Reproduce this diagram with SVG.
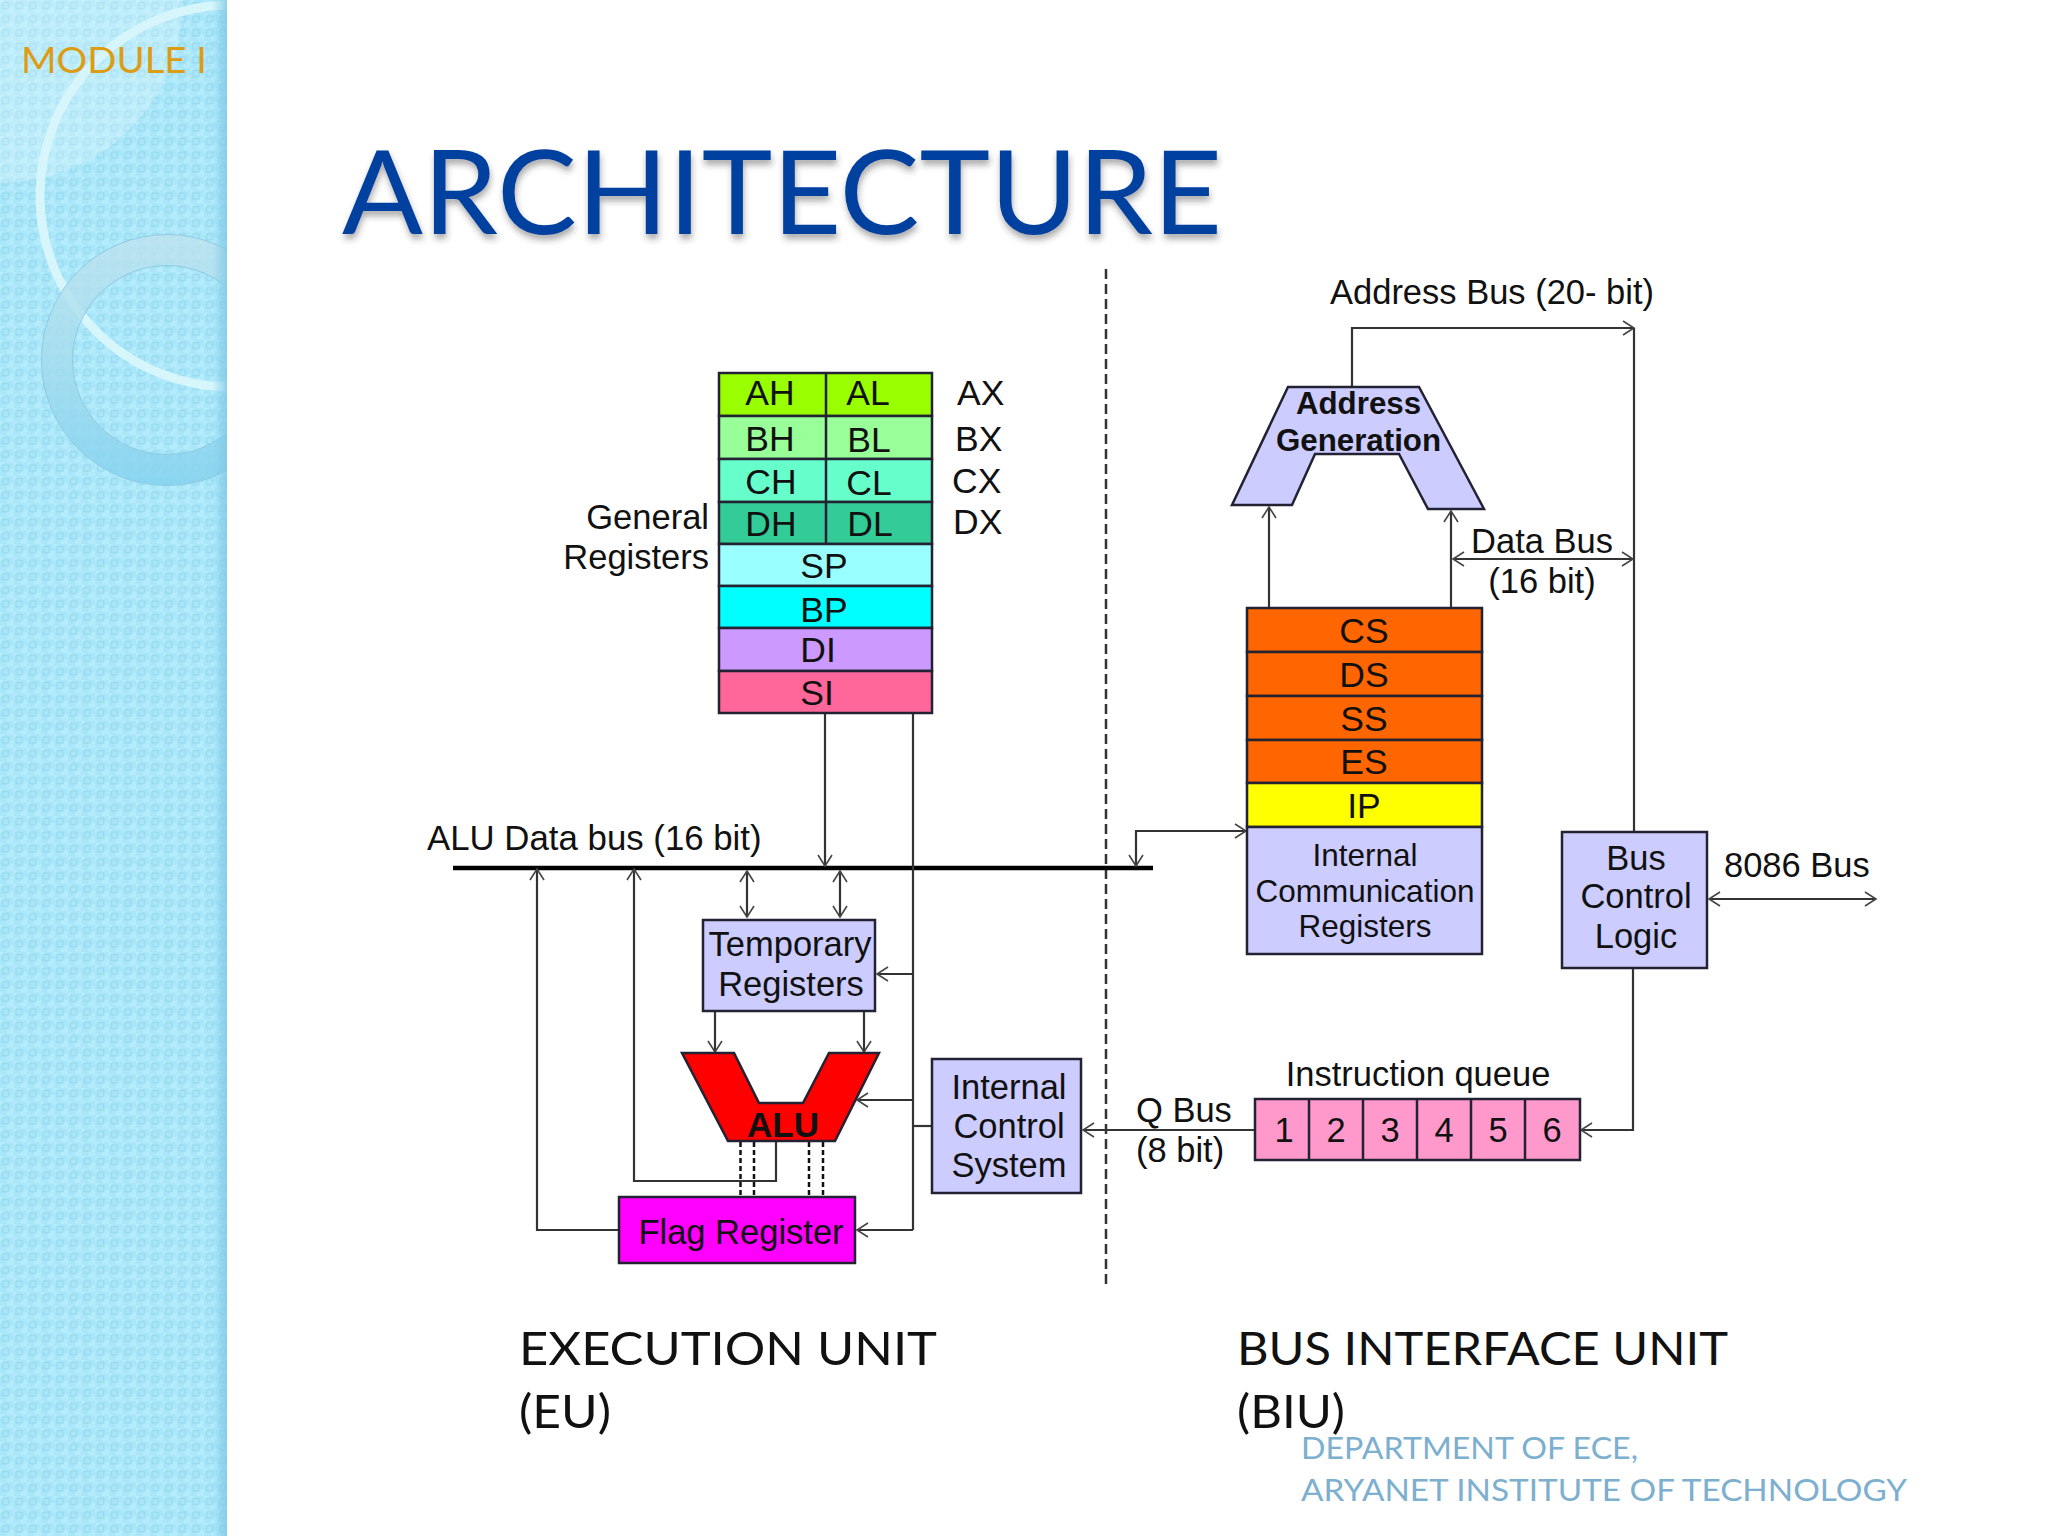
<svg xmlns="http://www.w3.org/2000/svg" width="2048" height="1536" viewBox="0 0 2048 1536">
<style>
text{font-family:"Liberation Sans",Arial,sans-serif;fill:#111;font-size:34.500px}
.m{text-anchor:middle}
.r{text-anchor:end}
.b{font-weight:bold}
.k{font-size:35.500px}
.g{font-family:Lato,"Open Sans",sans-serif}
.box{stroke:#223;stroke-width:2.5}
.c{fill:none;stroke:#333;stroke-width:2.2}
.a{marker-end:url(#h)}
.s{marker-start:url(#h)}
.d{fill:none;stroke:#111;stroke-width:2.5;stroke-dasharray:5 3}
</style>
<defs>
<marker id="h" markerUnits="userSpaceOnUse" markerWidth="24" markerHeight="24" refX="13" refY="12" orient="auto-start-reverse" viewBox="0 0 24 24"><path d="M2 5L13 12L2 19" fill="none" stroke="#444" stroke-width="1.6"/></marker>
<pattern id="tile" width="13.6" height="13.6" patternUnits="userSpaceOnUse"><rect width="13.6" height="13.6" fill="#a9e6f9"/><rect x="0" y="0" width="3.5" height="3.5" fill="#b8eefc"/><rect x="6.8" y="6.8" width="6.8" height="6.8" fill="#b4ecfb"/><rect x="2.5" y="2.5" width="6" height="6" fill="none" stroke="#98dbef" stroke-width="1.400"/></pattern>
<linearGradient id="edge" x1="0" x2="1" y1="0" y2="0"><stop offset="0" stop-color="#7fc8e6" stop-opacity="0"/><stop offset="1" stop-color="#7fc8e6" stop-opacity=".8"/></linearGradient>
<linearGradient id="ring" gradientUnits="userSpaceOnUse" x1="0" x2="0" y1="235" y2="487"><stop offset="0" stop-color="#bfe3ee"/><stop offset=".5" stop-color="#a5dcee"/><stop offset="1" stop-color="#82d1ee"/></linearGradient>
<clipPath id="side"><rect width="227" height="1536"/></clipPath>
<filter id="sh" x="-5%" y="-10%" width="110%" height="130%"><feDropShadow dx="1" dy="5" stdDeviation="3" flood-color="#333" flood-opacity=".4"/></filter>
</defs>
<rect width="2048" height="1536" fill="#fff"/>
<g id="sidebar" clip-path="url(#side)">
<rect width="227" height="1536" fill="url(#tile)"/>
<circle cx="0" cy="0" r="183" fill="#fff" fill-opacity=".22"/>
<circle cx="231" cy="196" r="191" fill="none" stroke="#d6f6fc" stroke-width="9"/>
<circle cx="167" cy="360" r="110" fill="none" stroke="url(#ring)" stroke-width="31" stroke-opacity=".8"/>
<circle cx="167" cy="360" r="125.500" fill="none" stroke="#8fcbe4" stroke-width="1"/>
<circle cx="167" cy="360" r="94.500" fill="none" stroke="#8fcbe4" stroke-width="1"/>
<rect x="212" width="15" height="1536" fill="url(#edge)"/>
</g>
<text class="g" x="21" y="73" textLength="186" lengthAdjust="spacingAndGlyphs" style="fill:#dc9c14;font-size:37px">MODULE I</text>
<text class="g" id="title" x="342" y="234" textLength="880" lengthAdjust="spacingAndGlyphs" filter="url(#sh)" style="fill:#003f9e;font-size:116px">ARCHITECTURE</text>
<g id="connectors">
<path d="M1106 269V1288" fill="none" stroke="#333" stroke-width="2.500" stroke-dasharray="10 5"/>
<path d="M453 868H1153" fill="none" stroke="#000" stroke-width="4.500"/>
<path class="c a" d="M825 713V866"/>
<path class="c" d="M913 713V1230"/>
<path class="c a" d="M619 1230H537V869"/>
<path class="c a" d="M776 1142V1181H634V869"/>
<path class="c a s" d="M747 871V917"/>
<path class="c a s" d="M840 871V917"/>
<path class="c a" d="M913 974H877"/>
<path class="c a" d="M715 1011V1052"/>
<path class="c a" d="M864 1011V1052"/>
<path class="c a" d="M913 1100H857"/>
<path class="c" d="M932 1126H913"/>
<path class="c a" d="M913 1230H857"/>
<path class="d" d="M740.500 1142V1197M754 1142V1197M809 1142V1197M823 1142V1197"/>
<path class="c a" d="M1254 1130H1083"/>
<path class="c a" d="M1633 968V1130H1581"/>
<path class="c a s" d="M1709 899H1876"/>
<path class="c a s" d="M1136 866V831H1246"/>
<path class="c a" d="M1352 387V328H1634"/>
<path class="c" d="M1634 328V832"/>
<path class="c a" d="M1269 608V507"/>
<path class="c a" d="M1451 608V511"/>
<path class="c a s" d="M1453 559H1633"/>
</g>
<g id="general-registers">
<rect class="box" x="719" y="373" width="213" height="43" fill="#99ff00"/>
<rect class="box" x="719" y="416" width="213" height="43" fill="#99ff99"/>
<rect class="box" x="719" y="459" width="213" height="43" fill="#66ffcc"/>
<rect class="box" x="719" y="502" width="213" height="42" fill="#33cc99"/>
<rect class="box" x="719" y="544" width="213" height="42" fill="#99ffff"/>
<rect class="box" x="719" y="586" width="213" height="42" fill="#00ffff"/>
<rect class="box" x="719" y="628" width="213" height="43" fill="#cc99ff"/>
<rect class="box" x="719" y="671" width="213" height="42" fill="#ff6699"/>
<path class="box" d="M826 373V544"/>
<text class="m k" x="770" y="405">AH</text><text class="m k" x="868" y="405">AL</text>
<text class="m k" x="770" y="451">BH</text><text class="m k" x="869" y="452">BL</text>
<text class="m k" x="771" y="494">CH</text><text class="m k" x="869" y="495">CL</text>
<text class="m k" x="771" y="536">DH</text><text class="m k" x="870" y="536">DL</text>
<text class="m k" x="824" y="578">SP</text><text class="m k" x="824" y="622">BP</text>
<text class="m k" x="818" y="662">DI</text><text class="m k" x="817" y="705">SI</text>
<text class="k" x="957" y="405">AX</text><text class="k" x="955" y="451">BX</text><text class="k" x="952" y="493">CX</text><text class="k" x="953" y="534">DX</text>
<text class="r" x="709" y="529">General</text><text class="r" x="709" y="569">Registers</text>
</g>
<text id="alu-bus-label" x="427" y="850" style="font-size:34.800px">ALU Data bus (16 bit)</text>
<g id="temporary-registers">
<rect class="box" x="703" y="920" width="172" height="91" fill="#ccccff"/>
<text class="m" x="790" y="956">Temporary</text><text class="m" x="791" y="996">Registers</text>
</g>
<g id="alu">
<path class="box" d="M682 1053H734L759 1103H803L829 1053H879L835 1141H728Z" fill="#ff0000"/>
<text class="m b" x="783" y="1137" style="font-size:35px">ALU</text>
</g>
<g id="internal-control-system">
<rect class="box" x="932" y="1059" width="149" height="134" fill="#ccccff"/>
<text class="m" x="1009" y="1099">Internal</text><text class="m" x="1009" y="1138">Control</text><text class="m" x="1009" y="1177">System</text>
</g>
<g id="flag-register">
<rect class="box" x="619" y="1197" width="236" height="66" fill="#ff00ff"/>
<text class="m" x="741" y="1244">Flag Register</text>
</g>
<g id="address-generation">
<path class="box" d="M1288 387H1419L1484 509H1428L1399 454H1315L1292 505H1232Z" fill="#ccccff"/>
<text class="m b" x="1358.500" y="414" style="font-size:31.300px">Address</text><text class="m b" x="1358.500" y="451" style="font-size:31.300px">Generation</text>
</g>
<text id="address-bus-label" x="1330" y="304" style="font-size:34.500px">Address Bus (20- bit)</text>
<g id="data-bus-label"><text class="m" x="1542" y="553">Data Bus</text><text class="m" x="1542" y="593">(16 bit)</text></g>
<g id="segment-registers">
<rect class="box" x="1247" y="608" width="235" height="44" fill="#ff6600"/>
<rect class="box" x="1247" y="652" width="235" height="44" fill="#ff6600"/>
<rect class="box" x="1247" y="696" width="235" height="44" fill="#ff6600"/>
<rect class="box" x="1247" y="740" width="235" height="43" fill="#ff6600"/>
<rect class="box" x="1247" y="783" width="235" height="44" fill="#ffff00"/>
<g class="m"><text class="m k" x="1364" y="643">CS</text><text class="m k" x="1364" y="687">DS</text><text class="m k" x="1364" y="731">SS</text><text class="m k" x="1364" y="774">ES</text><text class="m k" x="1364" y="818">IP</text></g>
</g>
<g id="internal-communication-registers">
<rect class="box" x="1247" y="827" width="235" height="127" fill="#ccccff"/>
<text class="m" x="1365" y="866" style="font-size:31.500px">Internal</text><text class="m" x="1365" y="902" style="font-size:31.500px">Communication</text><text class="m" x="1365" y="937" style="font-size:31.500px">Registers</text>
</g>
<g id="bus-control-logic">
<rect class="box" x="1562" y="832" width="145" height="136" fill="#ccccff"/>
<text class="m" x="1636" y="870">Bus</text><text class="m" x="1636" y="908">Control</text><text class="m" x="1636" y="948">Logic</text>
</g>
<text id="bus-8086-label" x="1724" y="877">8086 Bus</text>
<g id="instruction-queue">
<text class="m" x="1418" y="1086">Instruction queue</text>
<rect class="box" x="1255" y="1099" width="325" height="61" fill="#ff99cc"/>
<path class="box" d="M1309 1099V1160M1363 1099V1160M1417 1099V1160M1471 1099V1160M1525 1099V1160"/>
<text class="m" x="1284" y="1142">1</text><text class="m" x="1336" y="1142">2</text><text class="m" x="1390" y="1142">3</text><text class="m" x="1444" y="1142">4</text><text class="m" x="1498" y="1142">5</text><text class="m" x="1552" y="1142">6</text>
</g>
<g id="q-bus-label"><text x="1136" y="1122">Q Bus</text><text x="1136" y="1162">(8 bit)</text></g>
<g id="captions">
<text class="g" x="519" y="1365" textLength="418" lengthAdjust="spacingAndGlyphs" style="font-size:47px">EXECUTION UNIT</text>
<text class="g" x="519" y="1428" textLength="92" lengthAdjust="spacingAndGlyphs" style="font-size:47px">(EU)</text>
<text class="g" x="1237" y="1365" textLength="491" lengthAdjust="spacingAndGlyphs" style="font-size:47px">BUS INTERFACE UNIT</text>
<text class="g" x="1237" y="1428" textLength="108" lengthAdjust="spacingAndGlyphs" style="font-size:47px">(BIU)</text>
<text class="g" x="1301" y="1459" textLength="337" lengthAdjust="spacingAndGlyphs" style="fill:#7dafcf;font-size:31px">DEPARTMENT OF ECE,</text>
<text class="g" x="1301" y="1501" textLength="606" lengthAdjust="spacingAndGlyphs" style="fill:#7dafcf;font-size:31px">ARYANET INSTITUTE OF TECHNOLOGY</text>
</g>
</svg>
